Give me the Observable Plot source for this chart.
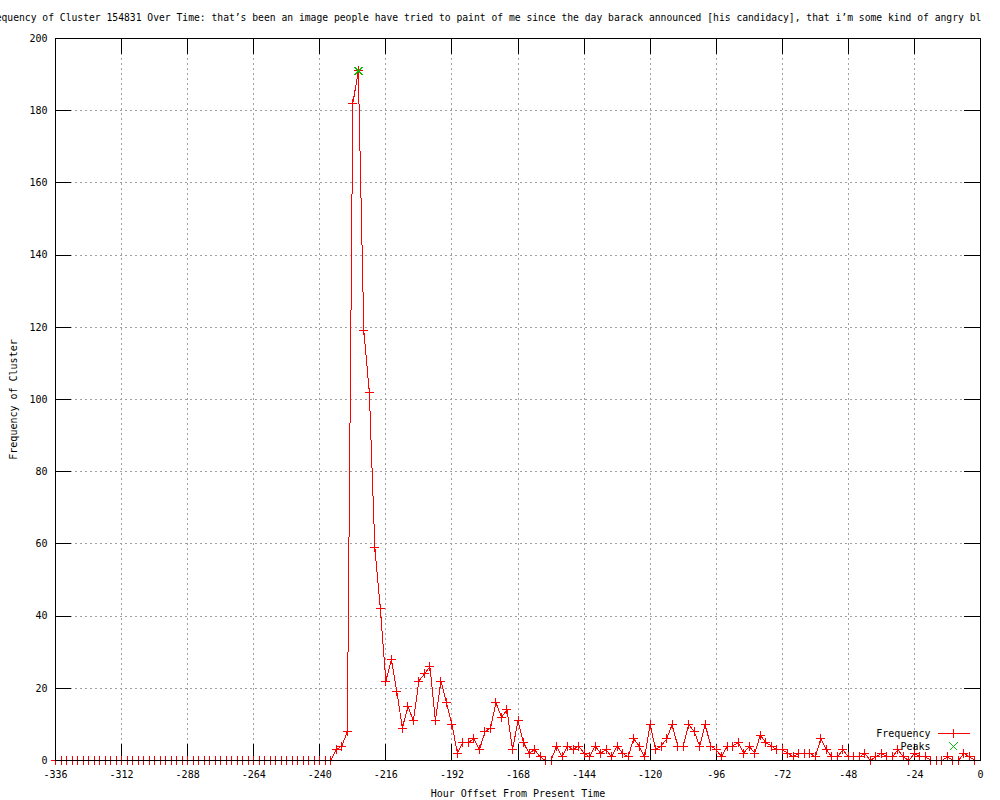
<!DOCTYPE html>
<html>
<head>
<meta charset="utf-8">
<script src="https://cdn.jsdelivr.net/npm/d3@7"></script>
<script src="https://cdn.jsdelivr.net/npm/@observablehq/plot@0.6"></script>
<style>
html, body { margin: 0; padding: 0; background: #fff; overflow: hidden; }
#wrap { position: relative; width: 1000px; height: 800px; font-family: "DejaVu Sans Mono", monospace; }
#title { position: absolute; left: -16px; top: 13px; white-space: nowrap; font-size: 9.7px; line-height: 10px; color: #000; }
</style>
</head>
<body>
<div id="wrap">
  <div id="chart"></div>
  <div id="title">Frequency of Cluster 154831 Over Time: that’s been an image people have tried to paint of me since the day barack announced [his candidacy], that i’m some kind of angry bl</div>
</div>
<script>
// ---- data ----
const hours = [
  -336,-334,-332,-330,-328,-326,-324,-322,-320,-318,-316,-314,-312,-310,-308,-306,-304,-302,-300,-298,
  -296,-294,-292,-290,-288,-286,-284,-282,-280,-278,-276,-274,-272,-270,-268,-266,-264,-262,-260,-258,
  -256,-254,-252,-250,-248,-246,-244,-242,-240,-238,-236,-234,-232,-230,-228,-226,-224,-222,-220,-218,
  -216,-214,-212,-210,-208,-206,-204,-202,-200,-198,-196,-194,-192,-190,-188,-186,-184,-182,-180,-178,
  -176,-174,-172,-170,-168,-166,-164,-162,-160,-158,-156,-154,-152,-150,-148,-146,-144,-142,-140,-138,
  -136,-134,-132,-130,-128,-126,-124,-122,-120,-118,-116,-114,-112,-110,-108,-106,-104,-102,-100,-98,
  -96,-94,-92,-90,-88,-86,-84,-82,-80,-78,-76,-74,-72,-70,-68,-66,-64,-62,-60,-58,
  -56,-54,-52,-50,-48,-46,-44,-42,-40,-38,-36,-34,-32,-30,-28,-26,-24,-22,-20,-18,
  -16,-14,-12,-10,-8,-6,-4,-2
];
const frequency = [
  0,0,0,0,0,0,0,0,0,0,0,0,0,0,0,0,0,0,0,0,
  0,0,0,0,0,0,0,0,0,0,0,0,0,0,0,0,0,0,0,0,
  0,0,0,0,0,0,0,0,0,0,0,3,4,8,182,191,119,102,59,42,
  22,28,19,9,15,11,22,24,26,11,22,16,10,2,5,5,6,3,8,9,
  16,12,14,3,11,5,2,3,1,0,0,4,1,4,3,4,2,1,4,2,
  3,1,4,2,1,6,4,1,10,3,4,6,10,4,4,10,8,4,10,4,
  3,1,4,4,5,2,4,2,7,5,4,3,3,2,1,2,2,2,1,6,
  3,1,1,3,1,1,1,2,0,1,2,1,1,3,1,0,2,1,1,0,
  0,0,1,0,0,2,1,0
];
const peakHours = [-226];
const peakValues = [191];
const xTicks = [-336,-312,-288,-264,-240,-216,-192,-168,-144,-120,-96,-72,-48,-24,0];
const yTicks = [0,20,40,60,80,100,120,140,160,180,200];
const xLabel = "Hour Offset From Present Time";
const yLabel = "Frequency of Cluster";
const seriesNames = ["Frequency", "Peaks"];

// ---- build ----
const series = hours.map((h, i) => ({hour: h, freq: frequency[i]}));
const peaks = peakHours.map((h, i) => ({hour: h, freq: peakValues[i]}));

const plusSym = {draw(ctx, size) { const r = Math.sqrt(size / Math.PI); ctx.moveTo(-r, 0); ctx.lineTo(r, 0); ctx.moveTo(0, -r); ctx.lineTo(0, r); }};
const crossSym = {draw(ctx, size) { const r = Math.sqrt(size / Math.PI); ctx.moveTo(-r, -r); ctx.lineTo(r, r); ctx.moveTo(-r, r); ctx.lineTo(r, -r); }};
// legend sample: short line with a plus in the middle
const legendLineSym = {draw(ctx, size) { const r = Math.sqrt(size / Math.PI); const L = 16; ctx.moveTo(-L, 0); ctx.lineTo(L, 0); ctx.moveTo(0, -r); ctx.lineTo(0, r); }};

const W = 1000, H = 800, mL = 55, mR = 20, mT = 38, mB = 40;
const plotW = W - mL - mR, plotH = H - mT - mB;
const tickLen = 16;
const red = "#ff0000", green = "#00c000";
const crisp = "crispEdges";

const chart = Plot.plot({
  width: W, height: H,
  marginLeft: mL, marginRight: mR, marginTop: mT, marginBottom: mB,
  style: {fontFamily: "DejaVu Sans Mono, monospace", fontSize: "10px", background: "#fff", color: "#000", overflow: "visible"},
  x: {domain: [-336, 0]},
  y: {domain: [0, 200]},
  marks: [
    Plot.gridX(xTicks, {stroke: "#a0a0a0", strokeOpacity: 1, strokeDasharray: "2,3", shapeRendering: crisp}),
    Plot.gridY(yTicks, {stroke: "#a0a0a0", strokeOpacity: 1, strokeDasharray: "2,3", shapeRendering: crisp}),
    Plot.tickX(xTicks, {x: d => d, stroke: "#000", insetTop: plotH - tickLen, shapeRendering: crisp}),
    Plot.tickX(xTicks, {x: d => d, stroke: "#000", insetBottom: plotH - tickLen, shapeRendering: crisp}),
    Plot.tickY(yTicks, {y: d => d, stroke: "#000", insetRight: plotW - tickLen, shapeRendering: crisp}),
    Plot.tickY(yTicks, {y: d => d, stroke: "#000", insetLeft: plotW - tickLen, shapeRendering: crisp}),
    Plot.line(series, {x: "hour", y: "freq", stroke: red, strokeWidth: 1, shapeRendering: crisp}),
    Plot.dot(series, {x: "hour", y: "freq", symbol: plusSym, r: 4.5, stroke: red, fill: "none", strokeWidth: 1, shapeRendering: crisp}),
    Plot.dot(peaks, {x: "hour", y: "freq", symbol: crossSym, r: 4, stroke: green, fill: "none", strokeWidth: 1, shapeRendering: crisp}),
    Plot.frame({stroke: "#000", shapeRendering: crisp}),
    Plot.axisX({ticks: xTicks, tickSize: 0, tickPadding: 10, tickFormat: d => String(d), label: null}),
    Plot.axisY({ticks: yTicks, tickSize: 0, tickPadding: 8, tickFormat: d => String(d), label: null}),
    Plot.text([xLabel], {text: d => d, frameAnchor: "bottom", dy: 33, textAnchor: "middle", lineAnchor: "middle", fill: "#000"}),
    Plot.text([yLabel], {text: d => d, frameAnchor: "left", dx: -42, rotate: -90, textAnchor: "middle", lineAnchor: "middle", fill: "#000"}),
    // legend
    Plot.text([seriesNames[0]], {text: d => d, frameAnchor: "bottom-right", dx: -50, dy: -27, textAnchor: "end", lineAnchor: "middle", fill: "#000"}),
    Plot.text([seriesNames[1]], {text: d => d, frameAnchor: "bottom-right", dx: -50, dy: -14, textAnchor: "end", lineAnchor: "middle", fill: "#000"}),
    Plot.dot([seriesNames[0]], {frameAnchor: "bottom-right", dx: -27, dy: -27, symbol: legendLineSym, r: 4.5, stroke: red, fill: "none", strokeWidth: 1, shapeRendering: crisp}),
    Plot.dot([seriesNames[1]], {frameAnchor: "bottom-right", dx: -27, dy: -14, symbol: crossSym, r: 4, stroke: green, fill: "none", strokeWidth: 1, shapeRendering: crisp})
  ]
});
document.getElementById("chart").appendChild(chart);
</script>
</body>
</html>
